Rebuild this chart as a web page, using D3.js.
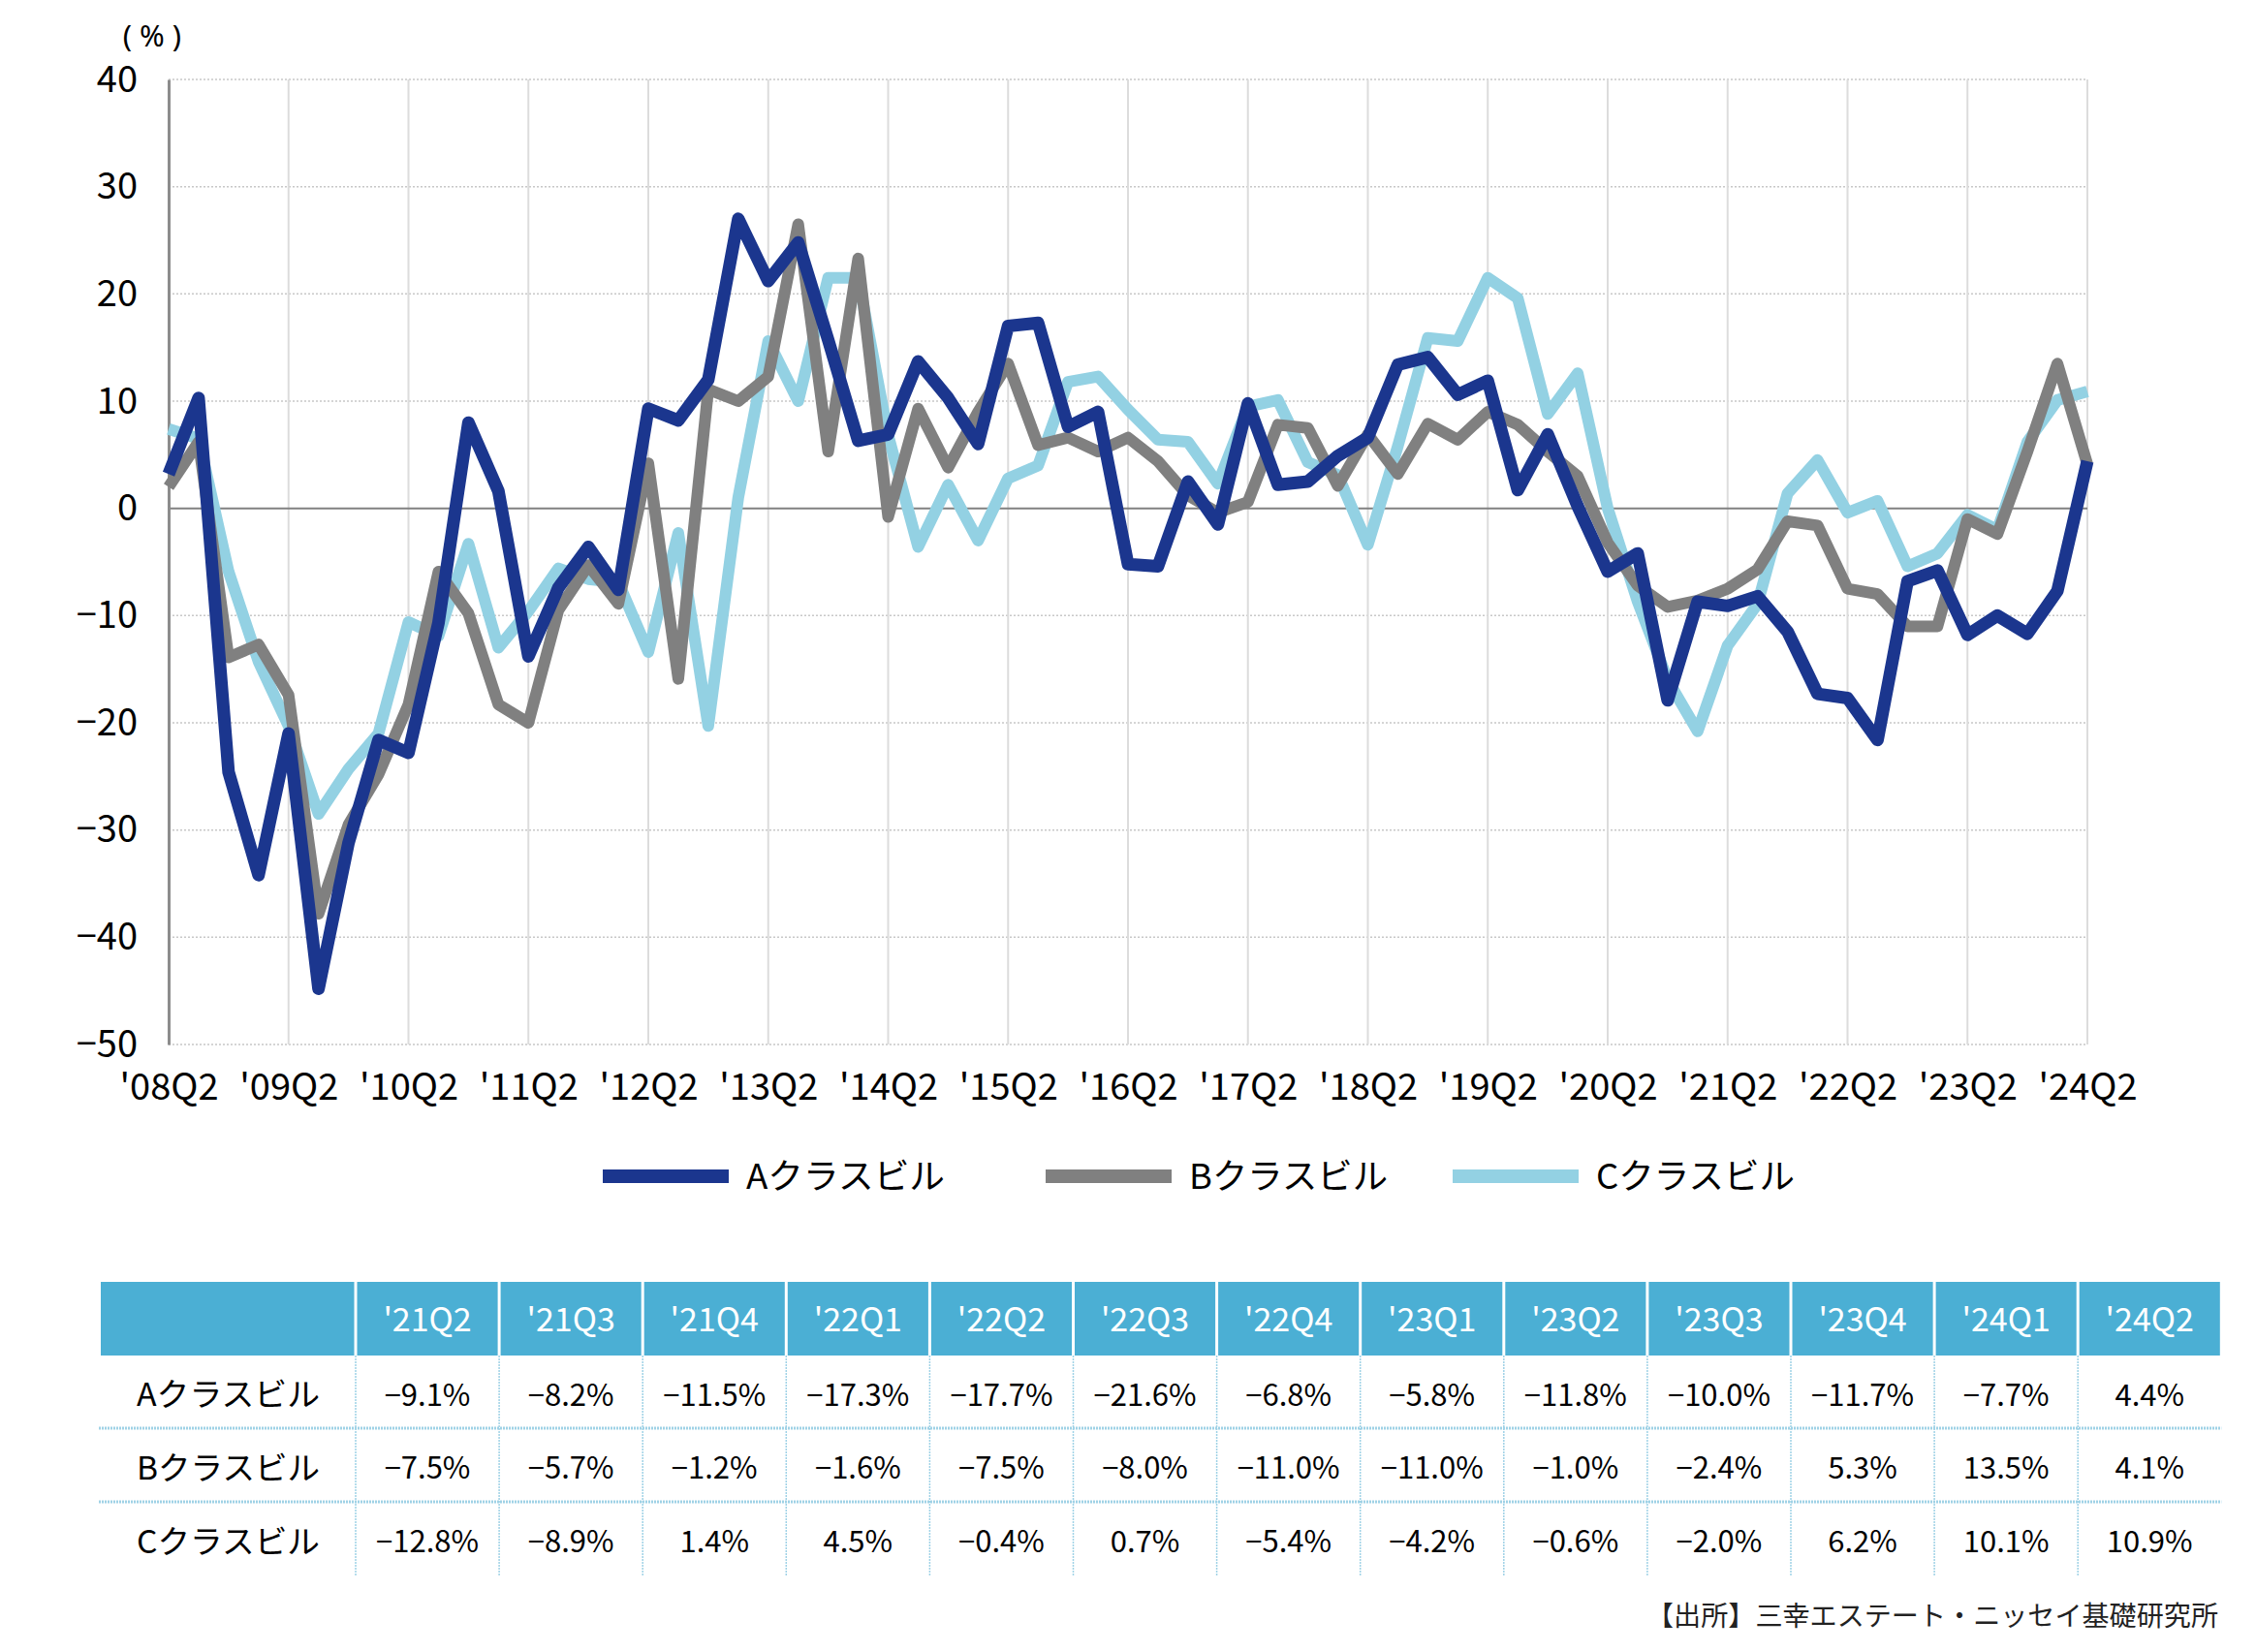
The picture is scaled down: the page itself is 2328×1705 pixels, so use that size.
<!DOCTYPE html>
<html><head><meta charset="utf-8">
<script src="https://cdn.jsdelivr.net/npm/d3@7"></script>
<style>
body{margin:0;background:#fff}
svg{display:block}
text{font-family:"Noto Sans CJK JP","Noto Sans",sans-serif}
</style>
</head><body>
<svg id="c" width="2328" height="1705"></svg>
<script>
const quarters = ["08Q2","08Q3","08Q4","09Q1","09Q2","09Q3","09Q4","10Q1","10Q2","10Q3","10Q4","11Q1",
"11Q2","11Q3","11Q4","12Q1","12Q2","12Q3","12Q4","13Q1","13Q2","13Q3","13Q4","14Q1",
"14Q2","14Q3","14Q4","15Q1","15Q2","15Q3","15Q4","16Q1","16Q2","16Q3","16Q4","17Q1",
"17Q2","17Q3","17Q4","18Q1","18Q2","18Q3","18Q4","19Q1","19Q2","19Q3","19Q4","20Q1",
"20Q2","20Q3","20Q4","21Q1","21Q2","21Q3","21Q4","22Q1","22Q2","22Q3","22Q4","23Q1",
"23Q2","23Q3","23Q4","24Q1","24Q2"];
const xTickLabels = ["'08Q2","'09Q2","'10Q2","'11Q2","'12Q2","'13Q2","'14Q2","'15Q2","'16Q2",
"'17Q2","'18Q2","'19Q2","'20Q2","'21Q2","'22Q2","'23Q2","'24Q2"];
const yTicks = [-50,-40,-30,-20,-10,0,10,20,30,40];
const seriesNames = ["Aクラスビル","Bクラスビル","Cクラスビル"];
const seriesA = [3.2,10.3,-24.6,-34.2,-21.0,-44.8,-31.2,-21.6,-22.8,-10.7,8.0,1.6,
-13.8,-7.4,-3.6,-7.6,9.3,8.2,12.0,27.0,21.2,24.8,15.7,6.3,
6.9,13.7,10.3,6.0,17.0,17.3,7.6,9.0,-5.2,-5.4,2.5,-1.5,
9.8,2.2,2.5,4.9,6.6,13.4,14.1,10.6,11.9,1.7,6.9,0.2,
-5.9,-4.2,-17.9,-8.7,-9.1,-8.2,-11.5,-17.3,-17.7,-21.6,-6.8,-5.8,
-11.8,-10.0,-11.7,-7.7,4.4];
const seriesB = [2.0,6.2,-13.9,-12.7,-17.4,-37.8,-29.5,-24.8,-18.3,-5.9,-9.8,-18.3,
-20.0,-9.5,-5.3,-8.9,4.2,-15.9,11.1,10.0,12.3,26.5,5.3,23.3,
-0.8,9.3,3.8,9.0,13.5,5.9,6.6,5.3,6.6,4.4,1.2,-0.4,
0.6,7.8,7.5,2.1,6.9,3.2,7.9,6.4,9.0,7.8,5.3,3.0,
-3.2,-7.2,-9.2,-8.6,-7.5,-5.7,-1.2,-1.6,-7.5,-8.0,-11.0,-11.0,
-1.0,-2.4,5.3,13.5,4.1];
const seriesC = [7.4,6.5,-5.9,-14.3,-20.3,-28.5,-24.3,-21.0,-10.6,-11.9,-3.3,-13.0,
-9.6,-5.6,-6.6,-6.9,-13.4,-2.3,-20.3,1.0,15.6,10.0,21.5,21.5,
6.8,-3.6,2.2,-3.0,2.8,4.0,11.8,12.3,9.2,6.4,6.2,2.3,
9.5,10.1,4.3,3.1,-3.4,5.8,15.9,15.6,21.5,19.6,8.8,12.6,
0.0,-8.7,-16.0,-20.8,-12.8,-8.9,1.4,4.5,-0.4,0.7,-5.4,-4.2,
-0.6,-2.0,6.2,10.1,10.9];
const tableQuarters = ["'21Q2","'21Q3","'21Q4","'22Q1","'22Q2","'22Q3","'22Q4","'23Q1","'23Q2","'23Q3","'23Q4","'24Q1","'24Q2"];
const sourceText = "【出所】三幸エステート・ニッセイ基礎研究所";

const colors = ["#1b368e","#808080","#93d1e3"];
const widths = [13,12,12];
const allSeries = [seriesA, seriesB, seriesC];

const svg = d3.select("#c");
const x = d3.scaleLinear().domain([0, quarters.length - 1]).range([174, 2154]);
const y = d3.scaleLinear().domain([-50, 40]).range([1078, 82]);
const xTickIdx = xTickLabels.map(l => quarters.indexOf(l.slice(1)));

svg.append("g").selectAll("line").data(yTicks.filter(d => d !== 0)).join("line")
  .attr("x1", x(0)).attr("x2", x(quarters.length - 1))
  .attr("y1", d => y(d)).attr("y2", d => y(d))
  .attr("stroke", "#c8c8c8").attr("stroke-width", 1.5).attr("stroke-dasharray", "2,2");
svg.append("g").selectAll("line").data(xTickIdx.filter(i => i > 0)).join("line")
  .attr("x1", d => x(d)).attr("x2", d => x(d))
  .attr("y1", y(40)).attr("y2", y(-50))
  .attr("stroke", "#dcdcdc").attr("stroke-width", 2);
svg.append("line").attr("x1", x(0)).attr("x2", x(quarters.length - 1))
  .attr("y1", y(0)).attr("y2", y(0)).attr("stroke", "#808080").attr("stroke-width", 2);

const fmt = d => d < 0 ? "\u2212" + Math.abs(d) : String(d);
const gy = svg.append("g").attr("transform", `translate(${x(0)},0)`)
  .call(d3.axisLeft(y).tickValues(yTicks).tickSize(0).tickPadding(32).tickFormat(fmt));
gy.select(".domain").attr("stroke", "#8c8c8c").attr("stroke-width", 3);
gy.selectAll("text").attr("font-size", 38).attr("fill", "#000")
  .style("font-family", '"Noto Sans CJK JP",sans-serif');

const gx = svg.append("g").attr("transform", `translate(0,${y(-50)})`)
  .call(d3.axisBottom(x).tickValues(xTickIdx).tickSize(0).tickPadding(30)
    .tickFormat((d, i) => xTickLabels[i]));
gx.select(".domain").remove();
gx.selectAll("text").attr("font-size", 38).attr("fill", "#000")
  .style("font-family", '"Noto Sans CJK JP",sans-serif');

// unit label
svg.append("text").attr("x", 161).attr("y", 37).attr("dy", "0.36em").attr("text-anchor", "middle")
  .attr("font-size", 31).attr("fill", "#000").attr("letter-spacing", 8)
  .style("font-family", '"Noto Sans","DejaVu Sans",sans-serif').text("(%)");

const line = d3.line().x((d, i) => x(i)).y(d => y(d));
[2, 1, 0].forEach(k => {
  svg.append("path").datum(allSeries[k]).attr("d", line)
    .attr("fill", "none").attr("stroke", colors[k]).attr("stroke-width", widths[k])
    .attr("stroke-linejoin", "round").attr("stroke-linecap", "butt");
});

const legX = [622, 1079, 1499];
const legG = svg.append("g");
seriesNames.forEach((n, k) => {
  legG.append("line").attr("x1", legX[k]).attr("x2", legX[k] + 130)
    .attr("y1", 1214).attr("y2", 1214).attr("stroke", colors[k]).attr("stroke-width", 14);
  legG.append("text").attr("x", legX[k] + 148).attr("y", 1214).attr("dy", "0.36em")
    .attr("font-size", 36).attr("fill", "#000")
    .attr("textLength", 205).attr("lengthAdjust", "spacingAndGlyphs").text(n);
});

const tLeft = 104, firstW = 263, colW = 148.1, hTop = 1323, hBot = 1399;
const rowEdges = [1399, 1474, 1550, 1626];
const tRight = tLeft + firstW + colW * tableQuarters.length;
const tg = svg.append("g");
const headerCells = [{x0: tLeft, x1: tLeft + firstW, t: ""}].concat(
  tableQuarters.map((q, i) => ({x0: tLeft + firstW + colW * i, x1: tLeft + firstW + colW * (i + 1), t: q})));
tg.selectAll("rect.h").data(headerCells).join("rect")
  .attr("x", d => d.x0 + (d.t ? 1.5 : 0)).attr("width", d => d.x1 - d.x0 - (d.t ? 1.5 : 0) - 1.5)
  .attr("y", hTop).attr("height", hBot - hTop).attr("fill", "#4bafd4");
tg.selectAll("text.h").data(headerCells.slice(1)).join("text")
  .attr("x", d => (d.x0 + d.x1) / 2).attr("y", 1362).attr("dy", "0.36em")
  .attr("text-anchor", "middle").attr("font-size", 34).attr("fill", "#fff").text(d => d.t);
tg.selectAll("line.r").data(rowEdges.slice(1, 3)).join("line")
  .attr("x1", tLeft - 2).attr("x2", tRight).attr("y1", d => d).attr("y2", d => d)
  .attr("stroke", "#9fd2e6").attr("stroke-width", 3).attr("stroke-dasharray", "2,1");
tg.selectAll("line.v").data(d3.range(tableQuarters.length)).join("line")
  .attr("x1", i => tLeft + firstW + colW * i).attr("x2", i => tLeft + firstW + colW * i)
  .attr("y1", hBot).attr("y2", rowEdges[3])
  .attr("stroke", "#9fd2e6").attr("stroke-width", 1.5).attr("stroke-dasharray", "2,1");
const pct = v => (v < 0 ? "\u2212" : "") + Math.abs(v).toFixed(1) + "%";
const start = quarters.length - tableQuarters.length;
allSeries.forEach((s, r) => {
  const cy = (rowEdges[r] + rowEdges[r + 1]) / 2 + 3;
  tg.append("text").attr("x", tLeft + firstW / 2).attr("y", cy).attr("dy", "0.36em")
    .attr("text-anchor", "middle").attr("font-size", 33).attr("fill", "#000")
    .attr("textLength", 189).attr("lengthAdjust", "spacingAndGlyphs").text(seriesNames[r]);
  tg.selectAll(null).data(s.slice(start)).join("text")
    .attr("x", (d, i) => tLeft + firstW + colW * (i + 0.5)).attr("y", cy).attr("dy", "0.36em")
    .attr("text-anchor", "middle").attr("font-size", 31).attr("fill", "#000").text(d => pct(d));
});

svg.append("text").attr("x", 2289).attr("y", 1668).attr("dy", "0.36em")
  .attr("text-anchor", "end").attr("font-size", 28).attr("fill", "#222")
  .attr("textLength", 590).attr("lengthAdjust", "spacingAndGlyphs").text(sourceText);
</script>
</body></html>
